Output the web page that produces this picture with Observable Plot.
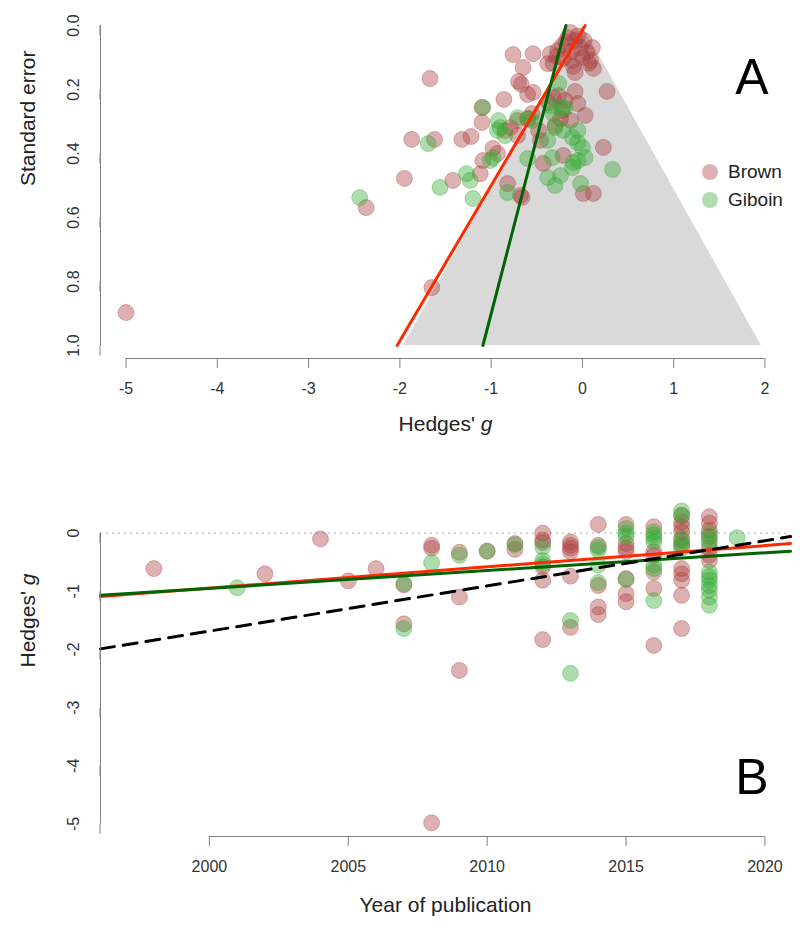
<!DOCTYPE html>
<html>
<head>
<meta charset="utf-8">
<script src="https://cdn.jsdelivr.net/npm/d3@7"></script>
<script src="https://cdn.jsdelivr.net/npm/@observablehq/plot@0.6"></script>
<style>
  body { margin: 0; background: #fff; font-family: "Liberation Sans", Arial, sans-serif; }
  #wrap { position: relative; width: 800px; height: 934px; }
  #wrap svg { display: block; }
  #legend { position: absolute; left: 702px; top: 158px; font-size: 19px; color: #222; }
  #legend .row { display: flex; align-items: center; height: 28px; }
  #legend .sw { width: 16px; height: 16px; border-radius: 50%; margin-right: 10px; }
</style>
</head>
<body>
<div id="wrap">
  <div id="legend"></div>
</div>
<script>
// ---------------- data ----------------
const groups = ["Brown", "Giboin"];
const groupColors = ["rgb(170,60,60)", "rgb(50,170,50)"];

// Panel A: funnel plot (Hedges' g vs standard error)
const brownFunnelG = [-5.00,-1.67,-1.65,-2.37,-1.95,-1.87,-1.62,-1.42,-1.32,-1.22,
  -1.12,-1.09,-1.10,-1.10,-0.98,-0.93,-0.85,-0.86,-0.82,-0.79,
  -0.71,-0.66,-0.68,-0.76,-0.54,-0.65,-0.70,-0.67,-0.60,-0.54,
  -0.71,-0.60,-0.55,-0.48,-0.43,-0.35,-0.27,-0.22,-0.16,-0.13,
  -0.08,-0.02,0.05,0.11,0.12,0.09,-0.08,-0.21,-0.32,-0.38,
  0.27,-0.08,-0.26,-0.32,-0.19,-0.05,0.03,-0.37,-0.21,0.01,
  0.12,0.23,-0.30,-0.13,-0.24,0.02,-0.11,-0.22,-0.46,
  -0.18,-0.05,0.00,-0.12,0.07,-0.28,-0.10];
const brownFunnelSE = [0.897,0.166,0.819,0.569,0.478,0.356,0.356,0.484,0.356,0.347,
  0.463,0.422,0.303,0.256,0.384,0.400,0.328,0.231,0.494,0.319,
  0.344,0.537,0.531,0.091,0.088,0.131,0.175,0.184,0.216,0.209,
  0.297,0.291,0.275,0.328,0.431,0.088,0.078,0.063,0.038,0.022,
  0.047,0.069,0.084,0.069,0.134,0.109,0.147,0.103,0.119,0.119,
  0.206,0.206,0.219,0.225,0.234,0.244,0.281,0.241,0.406,0.525,
  0.525,0.381,0.313,0.297,0.291,0.047,0.109,0.266,0.359,
  0.052,0.033,0.100,0.081,0.118,0.097,0.128];
const giboinFunnelG = [-2.44,-1.69,-1.56,-1.27,-1.23,-1.20,-1.09,-1.01,-0.98,-0.92,
  -0.93,-0.90,-0.85,-0.82,-0.71,-0.60,-0.59,-0.55,-0.38,-0.38,
  -0.35,-0.32,-0.33,-0.30,-0.30,-0.26,-0.24,-0.22,-0.19,-0.21,
  -0.11,-0.05,-0.05,0.00,0.03,-0.10,-0.11,-0.05,-0.02,0.33];
const giboinFunnelSE = [0.538,0.369,0.506,0.463,0.484,0.541,0.256,0.422,0.413,0.297,
  0.328,0.319,0.344,0.522,0.288,0.416,0.291,0.297,0.359,0.475,
  0.250,0.275,0.413,0.319,0.500,0.181,0.469,0.256,0.259,0.328,
  0.350,0.328,0.366,0.381,0.413,0.428,0.444,0.422,0.494,0.450];
// Egger-type lines: g = intercept + slope * SE
const funnelIntercept = [0.03, -0.18];
const funnelSlope = [-2.06, -0.91];
const funnelZ = 1.96;
const seSpan = [0, 1];
const xTicksA = [-5, -4, -3, -2, -1, 0, 1, 2];
const yTicksA = [0, 0.2, 0.4, 0.6, 0.8, 1.0];
const xDomainA = [-5.28, 2.28];

// Panel B: Hedges' g vs year of publication
const brownYear = [1998,2002,2004,2005,2006,2007,2007,2008,2008,2008,2009,2009,2009,2010,2011,2011,
  2012,2012,2012,2012,2012,2012,
  2013,2013,2013,2013,2013,2013,
  2014,2014,2014,2014,2014,
  2015,2015,2015,2015,2015,2015,2015,
  2016,2016,2016,2016,2016,2016,
  2017,2017,2017,2017,2017,2017,2017,2017,2017,2017,2017,
  2018,2018,2018,2018,2018,2018,2018];
const brownYearG = [-0.61,-0.70,-0.10,-0.82,-0.61,-0.89,-1.56,-0.21,-0.26,-4.98,-0.33,-1.10,-2.36,-0.31,-0.18,-0.28,
  0.00,-0.12,-0.16,-0.58,-0.81,-1.83,
  -0.15,-0.21,-0.26,-0.32,-0.74,-1.62,
  0.15,-0.21,-0.90,-1.27,-1.40,
  0.15,-0.18,-0.26,-0.32,-0.78,-1.04,-1.18,
  0.11,-0.32,-0.38,-0.67,-0.95,-1.93,
  0.30,0.19,0.11,0.02,-0.12,-0.21,-0.61,-0.70,-0.81,-1.07,-1.64,
  0.28,0.17,0.05,-0.06,-0.26,-0.38,-0.47];
const giboinYear = [2001,2007,2007,2008,2009,2010,2011,2012,2012,2012,2013,2013,2014,2014,2014,2014,2015,2015,2015,2015,
  2016,2016,2016,2016,2016,2016,2016,
  2017,2017,2017,2017,2017,
  2018,2018,2018,2018,2018,2018,2018,2018,2018,2018,
  2019];
const giboinYearG = [-0.94,-0.87,-1.64,-0.51,-0.38,-0.31,-0.20,-0.24,-0.47,-0.53,-1.50,-2.41,-0.24,-0.29,-0.55,-0.85,0.08,0.00,-0.06,-0.80,
  0.02,-0.03,-0.09,-0.15,-0.55,-0.61,-1.16,
  0.38,0.31,-0.09,-0.18,-0.26,
  -0.01,-0.12,-0.18,-0.67,-0.75,-0.81,-0.90,-0.98,-1.10,-1.24,
  -0.08];
// meta-regression lines: g = intercept (at 2000) + slope * (year - 2000)
const yearFitNames = ["Brown", "Giboin", "All"];
const yearFitIntercept = [-0.946, -0.950, -1.685];
const yearFitSlope = [0.0366, 0.0306, 0.0777];
const yearFitColors = ["#ff2a00", "#006400", "#000000"];
const yearFitDash = [null, null, "14,9"];
const xTicksB = [2000, 2005, 2010, 2015, 2020];
const yTicksB = [0, -1, -2, -3, -4, -5];
const xDomainB = [1996.08, 2020.92];
const yDomainB = [-5.215, 0.595];

// ---------------- styling ----------------
const font = "Liberation Sans, Arial, sans-serif";
const axisStroke = "#808080";
const textColor = "#222";
const dotStyle = (c) => ({r: 8, fill: c, fillOpacity: 0.4, stroke: c, strokeOpacity: 0.35, strokeWidth: 1});
const idx = (a) => d3.range(a.length);

// ---------------- Panel A ----------------
const plotA = Plot.plot({
  width: 800, height: 440,
  marginLeft: 100, marginRight: 10, marginTop: 25, marginBottom: 82,
  style: {fontFamily: font, background: "white", overflow: "visible"},
  x: {domain: xDomainA},
  y: {domain: [0, 1], range: [25, 345]},
  marks: [
    Plot.areaX(seSpan, {y: d => d, x1: d => -funnelZ * d, x2: d => funnelZ * d, fill: "#d9d9d9"}),
    Plot.dot(idx(brownFunnelG), {x: i => brownFunnelG[i], y: i => brownFunnelSE[i], ...dotStyle(groupColors[0])}),
    Plot.dot(idx(giboinFunnelG), {x: i => giboinFunnelG[i], y: i => giboinFunnelSE[i], ...dotStyle(groupColors[1])}),
    Plot.line(seSpan, {x: s => funnelIntercept[0] + funnelSlope[0] * s, y: s => s, stroke: "#ff2a00", strokeWidth: 3}),
    Plot.line(seSpan, {x: s => funnelIntercept[1] + funnelSlope[1] * s, y: s => s, stroke: "#006400", strokeWidth: 3}),
    Plot.axisX(xTicksA, {tickSize: 10, tickPadding: 14, tickFormat: d => String(d), fontSize: 16, stroke: axisStroke, fill: "#333", label: null}),
    Plot.ruleY([1], {x1: xTicksA[0], x2: xTicksA[xTicksA.length - 1], dy: 13, stroke: axisStroke}),
    Plot.axisY(yTicksA, {tickSize: 10, tickPadding: 12, tickFormat: d => d.toFixed(1), rotate: -90, textAnchor: "middle", lineAnchor: "bottom", fontSize: 16, stroke: axisStroke, fill: "#333", label: null}),
    Plot.ruleX([xDomainA[0]], {y1: yTicksA[0], y2: yTicksA[yTicksA.length - 1], stroke: axisStroke}),
    Plot.text(["Standard error"], {frameAnchor: "left", dx: -66, dy: -6, rotate: -90, lineAnchor: "bottom", fontSize: 21, fill: textColor}),
    Plot.text(["Hedges' g"], {frameAnchor: "bottom", dy: 72, lineAnchor: "bottom", fontSize: 21, fill: textColor}),
    Plot.text(["A"], {frameAnchor: "top-right", dx: -22, dy: 68, textAnchor: "end", lineAnchor: "bottom", fontSize: 50, fill: "#000"})
  ]
});

// ---------------- Panel B ----------------
const fitMarks = yearFitNames.map((n, k) =>
  Plot.line(xDomainB, {
    x: d => d,
    y: d => yearFitIntercept[k] + yearFitSlope[k] * (d - 2000),
    stroke: yearFitColors[k], strokeWidth: 3,
    strokeDasharray: yearFitDash[k] || undefined
  })
);

const plotB = Plot.plot({
  width: 800, height: 494,
  marginLeft: 100, marginRight: 10, marginTop: 58, marginBottom: 98,
  style: {fontFamily: font, background: "white", overflow: "visible"},
  x: {domain: xDomainB},
  y: {domain: yDomainB},
  marks: [
    Plot.ruleY([0], {stroke: "#bdbdbd", strokeDasharray: "2,4", strokeWidth: 1.2}),
    Plot.dot(idx(brownYear), {x: i => brownYear[i], y: i => brownYearG[i], ...dotStyle(groupColors[0])}),
    Plot.dot(idx(giboinYear), {x: i => giboinYear[i], y: i => giboinYearG[i], ...dotStyle(groupColors[1])}),
    ...fitMarks,
    Plot.axisX(xTicksB, {tickSize: 10, tickPadding: 14, tickFormat: d => String(d), fontSize: 16, stroke: axisStroke, fill: "#333", label: null}),
    Plot.ruleY([yDomainB[0]], {x1: xTicksB[0], x2: xTicksB[xTicksB.length - 1], stroke: axisStroke}),
    Plot.axisY(yTicksB, {tickSize: 10, tickPadding: 12, tickFormat: d => String(d), rotate: -90, textAnchor: "middle", lineAnchor: "bottom", fontSize: 16, stroke: axisStroke, fill: "#333", label: null}),
    Plot.ruleX([xDomainB[0]], {y1: yTicksB[yTicksB.length - 1], y2: yTicksB[0], stroke: axisStroke}),
    Plot.text(["Hedges' g"], {frameAnchor: "left", dx: -66, rotate: -90, lineAnchor: "bottom", fontSize: 21, fill: textColor}),
    Plot.text(["Year of publication"], {frameAnchor: "bottom", dy: 75, lineAnchor: "bottom", fontSize: 21, fill: textColor}),
    Plot.text(["B"], {frameAnchor: "bottom-right", dx: -22, dy: -43, textAnchor: "end", lineAnchor: "bottom", fontSize: 50, fill: "#000"})
  ]
});

const wrap = document.getElementById("wrap");
wrap.appendChild(plotA);
wrap.appendChild(plotB);

// italic "g" in Hedges' g
[plotA, plotB].forEach(svg => {
  d3.select(svg).selectAll("text").filter(function () { return this.textContent === "Hedges' g"; })
    .each(function () {
      const t = d3.select(this);
      t.text(null);
      t.append("tspan").text("Hedges' ");
      t.append("tspan").attr("font-style", "italic").text("g");
    });
});

// legend
const legend = d3.select("#legend");
groups.forEach((g, k) => {
  const row = legend.append("div").attr("class", "row");
  row.append("div").attr("class", "sw")
    .style("background", groupColors[k]).style("opacity", 0.4);
  row.append("span").text(g);
});
</script>
</body>
</html>
